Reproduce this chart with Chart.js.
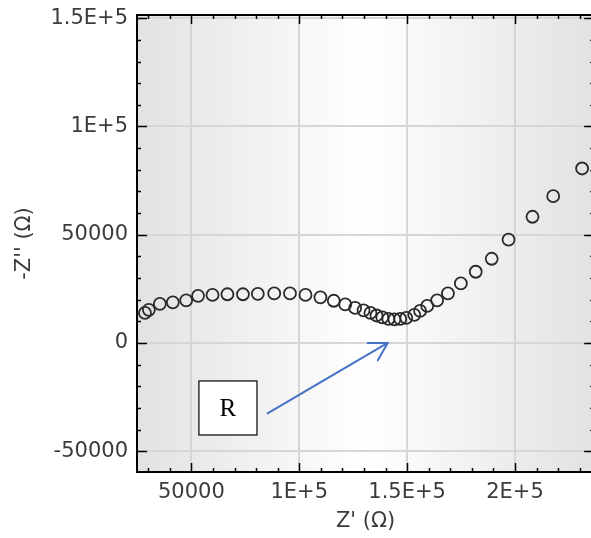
<!DOCTYPE html>
<html>
<head>
<meta charset="utf-8">
<script src="https://cdn.jsdelivr.net/npm/chart.js@4.4.1/dist/chart.umd.min.js"></script>
<style>
    html, body { margin: 0; padding: 0; background: #fff; overflow: hidden; }
    #wrap { width: 591px; height: 538px; overflow: hidden; }
</style>
</head>
<body>
<div id="wrap"><canvas id="nyquist" width="602" height="538"></canvas></div>
<script>
// Impedance data (ohms)
const zReal = [28500, 30300, 35400, 41400, 47600, 53100, 59800, 66700, 73900, 80800,
               88400, 95700, 102900, 109800, 116000, 121300, 125900, 129800, 133000, 135800,
               138500, 141300, 144100, 146800, 149600, 153300, 156000, 159300, 163900, 168900,
               174900, 181800, 189200, 197000, 208100, 217700, 231100];
const zImag = [13900, 15300, 18100, 18800, 19700, 21800, 22200, 22500, 22500, 22700,
               22900, 22900, 22200, 21100, 19500, 17800, 16200, 15100, 13900, 12700,
               11800, 11100, 10900, 11100, 11600, 13000, 14800, 17100, 19700, 22900,
               27500, 32900, 38900, 47700, 58300, 67800, 80600];

const xTickValues = [50000, 100000, 150000, 200000];
const xTickLabels = ['50000', '1E+5', '1.5E+5', '2E+5'];
const yTickValues = [-50000, 0, 50000, 100000, 150000];
const yTickLabels = ['-50000', '0', '50000', '1E+5', '1.5E+5'];

// "R" callout, in data units
const rBox = { x1: 53500, x2: 80400, y1: -17550, y2: -42500 };
const rArrow = { x1: 85300, y1: -32500, x2: 141000, y2: 0 };

const labelFont = { family: 'DejaVu Sans', size: 21 };
const textColor = '#3c3c3c';

const points = zReal.map((x, i) => ({ x: x, y: zImag[i] }));

// background gradient, frame, inward ticks and the callout
const framePlugin = {
    id: 'frame',
    beforeDraw(chart) {
        const { ctx, chartArea: a } = chart;
        const g = ctx.createLinearGradient(a.left, 0, a.right, 0);
        g.addColorStop(0, '#e2e2e2');
        g.addColorStop(0.5, '#ffffff');
        g.addColorStop(1, '#e2e2e2');
        ctx.save();
        ctx.fillStyle = g;
        ctx.fillRect(a.left, a.top, a.width, a.height);
        ctx.restore();
    },
    afterDatasetsDraw(chart) {
        const { ctx, chartArea: a } = chart;
        const xs = chart.scales.x, ys = chart.scales.y;
        ctx.save();
        ctx.strokeStyle = '#000';
        ctx.lineWidth = 1.5;
        ctx.beginPath();
        for (let v = Math.ceil(xs.min / 10000) * 10000; v <= xs.max; v += 10000) {
            const px = Math.round(xs.getPixelForValue(v)) + 0.5;
            const len = v % 50000 === 0 ? 9 : 4;
            ctx.moveTo(px, a.bottom); ctx.lineTo(px, a.bottom - len);
            ctx.moveTo(px, a.top); ctx.lineTo(px, a.top + len);
        }
        for (let v = Math.ceil(ys.min / 10000) * 10000; v <= ys.max; v += 10000) {
            const py = Math.round(ys.getPixelForValue(v)) + 0.5;
            const len = v % 50000 === 0 ? 10 : 4;
            ctx.moveTo(a.left, py); ctx.lineTo(a.left + len, py);
            ctx.moveTo(a.right, py); ctx.lineTo(a.right - len, py);
        }
        ctx.stroke();

        ctx.lineWidth = 2;
        ctx.strokeRect(a.left, a.top, a.width, a.height);

        // R box
        const bx1 = xs.getPixelForValue(rBox.x1), bx2 = xs.getPixelForValue(rBox.x2);
        const by1 = ys.getPixelForValue(rBox.y1), by2 = ys.getPixelForValue(rBox.y2);
        ctx.fillStyle = '#fff';
        ctx.fillRect(bx1, by1, bx2 - bx1, by2 - by1);
        ctx.lineWidth = 1.2;
        ctx.strokeRect(bx1, by1, bx2 - bx1, by2 - by1);
        ctx.fillStyle = '#000';
        ctx.font = '25px "Liberation Serif", "Times New Roman", serif';
        ctx.textAlign = 'center';
        ctx.textBaseline = 'middle';
        ctx.fillText('R', (bx1 + bx2) / 2, (by1 + by2) / 2 + 1);

        // arrow
        const ax1 = xs.getPixelForValue(rArrow.x1), ay1 = ys.getPixelForValue(rArrow.y1);
        const ax2 = xs.getPixelForValue(rArrow.x2), ay2 = ys.getPixelForValue(rArrow.y2);
        const ang = Math.atan2(ay1 - ay2, ax1 - ax2);
        const head = 20, spread = Math.PI / 6;
        ctx.strokeStyle = '#4472c4';
        ctx.lineWidth = 2;
        ctx.lineCap = 'round';
        ctx.beginPath();
        ctx.moveTo(ax1, ay1); ctx.lineTo(ax2, ay2);
        ctx.moveTo(ax2 + head * Math.cos(ang + spread), ay2 + head * Math.sin(ang + spread));
        ctx.lineTo(ax2, ay2);
        ctx.lineTo(ax2 + head * Math.cos(ang - spread), ay2 + head * Math.sin(ang - spread));
        ctx.stroke();
        ctx.restore();
    }
};

new Chart(document.getElementById('nyquist').getContext('2d'), {
    type: 'scatter',
    data: {
        datasets: [{
            data: points,
            showLine: false,
            pointStyle: 'circle',
            pointRadius: 6,
            borderWidth: 1.8,
            borderColor: '#2a2a2a',
            backgroundColor: 'rgba(0,0,0,0)'
        }]
    },
    options: {
        responsive: false,
        animation: false,
        layout: { padding: { left: 0, top: 15, right: 4, bottom: 0 } },
        plugins: { legend: { display: false }, tooltip: { enabled: false } },
        scales: {
            x: {
                type: 'linear',
                min: 24800,
                max: 236700,
                afterBuildTicks: s => { s.ticks = xTickValues.map(v => ({ value: v })); },
                afterFit: s => { s.height = 66; s.paddingLeft = 0; s.paddingRight = 0; },
                grid: { color: '#d6d6d6', lineWidth: 2, drawTicks: false },
                border: { display: false },
                ticks: {
                    padding: 8, color: textColor, font: labelFont,
                    maxRotation: 0, autoSkip: false,
                    callback: (v, i) => xTickLabels[i]
                },
                title: {
                    display: true, text: "Z' (Ω)", color: textColor, font: labelFont,
                    padding: { top: 0, bottom: 4 }
                }
            },
            y: {
                type: 'linear',
                min: -59600,
                max: 151500,
                afterBuildTicks: s => { s.ticks = yTickValues.map(v => ({ value: v })); },
                afterFit: s => { s.width = 137; s.paddingTop = 0; s.paddingBottom = 0; },
                grid: { color: '#d6d6d6', lineWidth: 2, drawTicks: false },
                border: { display: false },
                ticks: {
                    padding: 9, color: textColor, font: labelFont,
                    autoSkip: false,
                    callback: (v, i) => yTickLabels[i]
                },
                title: {
                    display: true, text: "-Z'' (Ω)", color: textColor, font: labelFont,
                    padding: { top: 12, bottom: 0 }
                }
            }
        }
    },
    plugins: [framePlugin]
});
</script>
</body>
</html>
